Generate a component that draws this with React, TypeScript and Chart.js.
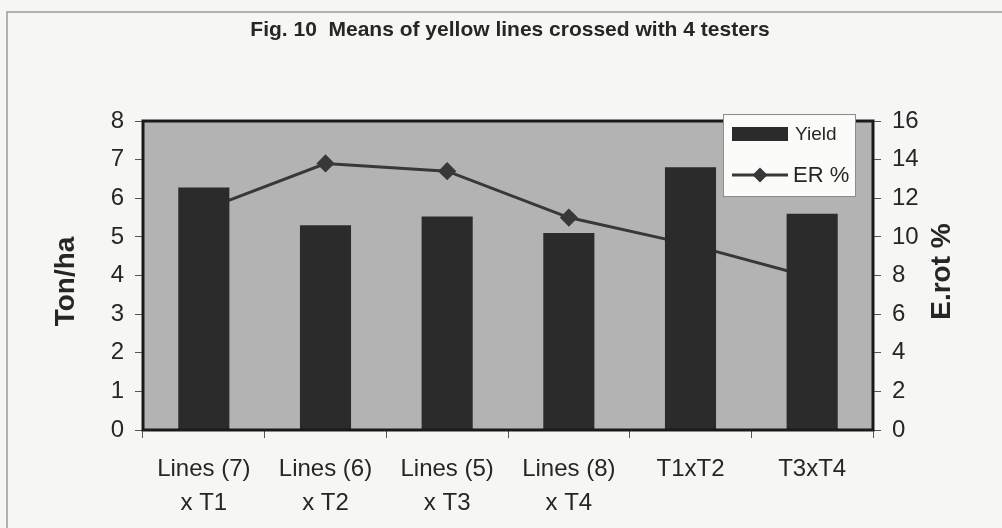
import { useEffect, useRef } from "react";
import { Chart, registerables } from "chart.js";

Chart.register(...registerables);

const categories: string[][] = [
  ["Lines (7)", "x T1"],
  ["Lines (6)", "x T2"],
  ["Lines (5)", "x T3"],
  ["Lines (8)", "x T4"],
  ["T1xT2"],
  ["T3xT4"],
];
const yieldValues = [6.28, 5.3, 5.53, 5.1, 6.8, 5.6];
const erValues = [11.4, 13.8, 13.4, 11.0, 9.6, 7.9];
const yieldLabel = "Yield";
const erLabel = "ER %";
const titleText = "Fig. 10  Means of yellow lines crossed with 4 testers";
const leftAxisTitle = "Ton/ha";
const rightAxisTitle = "E.rot %";

const FONT = "'Liberation Sans', Arial, Helvetica, sans-serif";
const BAR_COLOR = "#2b2b2b";
const LINE_COLOR = "#383838";
const TEXT_COLOR = "#262626";

const decorPlugin = {
  id: "decor",
  beforeDraw(chart: any) {
    const { ctx, chartArea: a, width, height } = chart;
    ctx.save();
    ctx.fillStyle = "#f6f6f4";
    ctx.fillRect(0, 0, width, height);
    ctx.fillStyle = "#b3b3b3";
    ctx.fillRect(a.left, a.top, a.right - a.left, a.bottom - a.top);
    ctx.strokeStyle = "#9a9a9a";
    ctx.lineWidth = 1.5;
    ctx.beginPath();
    ctx.moveTo(7, height);
    ctx.lineTo(7, 12);
    ctx.lineTo(width, 12);
    ctx.stroke();
    ctx.restore();
  },
  afterDatasetsDraw(chart: any) {
    const { ctx, chartArea: a } = chart;
    ctx.save();
    ctx.strokeStyle = "#1a1a1a";
    ctx.lineWidth = 3;
    ctx.strokeRect(a.left, a.top, a.right - a.left, a.bottom - a.top);
    ctx.restore();
  },
  afterDraw(chart: any) {
    const { ctx, chartArea: a } = chart;
    const midY = (a.top + a.bottom) / 2;
    ctx.save();
    ctx.fillStyle = TEXT_COLOR;
    ctx.font = `bold 21px ${FONT}`;
    ctx.textAlign = "center";
    ctx.textBaseline = "middle";
    ctx.fillText(titleText, 510, 30);
    ctx.font = `bold 28px ${FONT}`;
    ctx.save();
    ctx.translate(66, midY + 6);
    ctx.rotate(-Math.PI / 2);
    ctx.fillText(leftAxisTitle, 0, 0);
    ctx.restore();
    ctx.save();
    ctx.translate(942, midY - 4);
    ctx.rotate(-Math.PI / 2);
    ctx.fillText(rightAxisTitle, 0, 0);
    ctx.restore();

    const lx = 723, ly = 114, lw = 132, lh = 82;
    ctx.fillStyle = "#fbfbfa";
    ctx.fillRect(lx, ly, lw, lh);
    ctx.strokeStyle = "#8c8c8c";
    ctx.lineWidth = 1;
    ctx.strokeRect(lx + 0.5, ly + 0.5, lw, lh);
    ctx.fillStyle = BAR_COLOR;
    ctx.fillRect(732, 127, 56, 14);
    ctx.fillStyle = TEXT_COLOR;
    ctx.textAlign = "left";
    ctx.font = `19px ${FONT}`;
    ctx.fillText(yieldLabel, 795, 135);
    ctx.strokeStyle = LINE_COLOR;
    ctx.lineWidth = 3;
    ctx.beginPath();
    ctx.moveTo(732, 175);
    ctx.lineTo(788, 175);
    ctx.stroke();
    ctx.fillStyle = LINE_COLOR;
    ctx.beginPath();
    ctx.moveTo(760, 167.5);
    ctx.lineTo(767.5, 175);
    ctx.lineTo(760, 182.5);
    ctx.lineTo(752.5, 175);
    ctx.closePath();
    ctx.fill();
    ctx.fillStyle = TEXT_COLOR;
    ctx.font = `22px ${FONT}`;
    ctx.fillText(erLabel, 793, 176);
    ctx.restore();
  },
};

export default function App() {
  const ref = useRef<HTMLCanvasElement | null>(null);
  useEffect(() => {
    if (!ref.current) return;
    const chart = new Chart(ref.current, {
      type: "bar",
      data: {
        labels: categories,
        datasets: [
          {
            type: "bar",
            label: yieldLabel,
            data: yieldValues,
            backgroundColor: BAR_COLOR,
            borderWidth: 0,
            barPercentage: 0.42,
            categoryPercentage: 1,
            yAxisID: "y",
            order: 0,
          },
          {
            type: "line",
            label: erLabel,
            data: erValues,
            borderColor: LINE_COLOR,
            borderWidth: 3,
            pointStyle: "rectRot",
            pointRadius: 7,
            pointBackgroundColor: LINE_COLOR,
            pointBorderColor: LINE_COLOR,
            tension: 0,
            yAxisID: "y1",
            order: 1,
          } as any,
        ],
      },
      options: {
        responsive: false,
        animation: false,
        devicePixelRatio: 1,
        layout: { padding: { top: 121, left: 0, right: 0, bottom: 0 } },
        plugins: {
          legend: { display: false },
          title: { display: false },
          tooltip: { enabled: false },
        },
        scales: {
          x: {
            grid: {
              drawOnChartArea: false,
              drawTicks: true,
              tickLength: 8,
              color: "#555",
              offset: true,
            },
            border: { display: false },
            ticks: {
              color: TEXT_COLOR,
              padding: 14,
              maxRotation: 0,
              autoSkip: false,
              font: { family: FONT, size: 24, lineHeight: 34 / 24 },
            },
            afterFit: (s: any) => {
              s.height = 98;
            },
          },
          y: {
            position: "left",
            min: 0,
            max: 8,
            grid: { drawOnChartArea: false, tickLength: 8, color: "#555" },
            border: { display: false },
            ticks: {
              stepSize: 1,
              color: TEXT_COLOR,
              padding: 11,
              font: { family: FONT, size: 24 },
            },
            afterFit: (s: any) => {
              s.width = 143;
            },
          },
          y1: {
            position: "right",
            min: 0,
            max: 16,
            grid: { drawOnChartArea: false, tickLength: 8, color: "#555" },
            border: { display: false },
            ticks: {
              stepSize: 2,
              color: TEXT_COLOR,
              padding: 11,
              font: { family: FONT, size: 24 },
            },
            afterFit: (s: any) => {
              s.width = 129;
            },
          },
        },
      },
      plugins: [decorPlugin],
    });
    return () => chart.destroy();
  }, []);
  return (
    <div style={{ position: "absolute", left: 0, top: 0, width: 1002, height: 528 }}>
      <canvas ref={ref} width={1002} height={528} style={{ display: "block" }} />
    </div>
  );
}
